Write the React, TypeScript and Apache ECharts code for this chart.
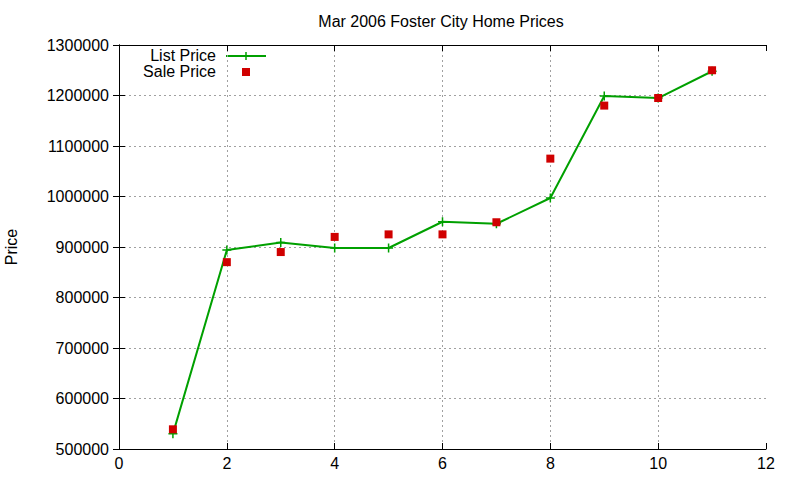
import { useEffect, useRef } from 'react';
import * as echarts from 'echarts';

const houses = [1, 2, 3, 4, 5, 6, 7, 8, 9, 10, 11];
const listPrice = [530000, 894000, 909000, 898000, 898000, 950000, 946000, 997000, 1199000, 1195000, 1248000];
const salePrice = [539000, 870000, 890000, 920000, 925000, 925000, 949000, 1075000, 1180000, 1195000, 1250000];
const xTicks = [0, 2, 4, 6, 8, 10, 12];
const yTicks = [500000, 600000, 700000, 800000, 900000, 1000000, 1100000, 1200000, 1300000];

const GREEN = '#00a000';
const RED = '#d00000';
const FONT = '"Liberation Sans", Arial, sans-serif';
const FS = 16;
const PLUS = 'path://M0,5L10,5M5,0L5,10';

export default function App() {
  const divRef = useRef<HTMLDivElement>(null);

  useEffect(() => {
    if (!divRef.current) return;
    const chart = echarts.init(divRef.current, undefined, { renderer: 'svg' });

    const gridDash = { color: '#a0a0a0', type: [2, 3] as number[], width: 1 };
    const tick = { show: true, inside: true, length: 6, lineStyle: { color: '#000' } };
    const lbl = { fontFamily: FONT, fontSize: FS, color: '#000' };

    chart.setOption({
      animation: false,
      backgroundColor: '#fff',
      graphic: [
        {
          type: 'text',
          x: 441,
          y: 21,
          style: {
            text: 'Mar 2006 Foster City Home Prices',
            font: `${FS}px ${FONT}`,
            fill: '#000',
            align: 'center',
            verticalAlign: 'middle',
          },
        },
        {
          type: 'text',
          x: 216,
          y: 55,
          style: { text: 'List Price', font: `${FS}px ${FONT}`, fill: '#000', align: 'right', verticalAlign: 'middle' },
        },
        {
          type: 'text',
          x: 216,
          y: 71,
          style: { text: 'Sale Price', font: `${FS}px ${FONT}`, fill: '#000', align: 'right', verticalAlign: 'middle' },
        },
        {
          type: 'line',
          shape: { x1: 226, y1: 56, x2: 266, y2: 56 },
          style: { stroke: GREEN, lineWidth: 2 },
        },
        {
          type: 'line',
          shape: { x1: 246, y1: 52, x2: 246, y2: 60 },
          style: { stroke: GREEN, lineWidth: 1.5 },
        },
        {
          type: 'rect',
          shape: { x: 242, y: 68, width: 8, height: 8 },
          style: { fill: RED },
        },
      ],
      grid: { left: 119, right: 34, top: 45, bottom: 31, containLabel: false, outerBoundsMode: 'none' },
      xAxis: [
        {
          type: 'value',
          min: xTicks[0],
          max: xTicks[xTicks.length - 1],
          interval: 2,
          axisLine: { show: true, lineStyle: { color: '#000', width: 1 } },
          axisTick: tick,
          axisLabel: { ...lbl, margin: 6 },
          splitLine: { show: true, showMinLine: false, showMaxLine: false, lineStyle: gridDash },
        },
        {
          type: 'value',
          position: 'top',
          min: xTicks[0],
          max: xTicks[xTicks.length - 1],
          interval: 2,
          axisLine: { show: true, lineStyle: { color: '#000', width: 1 } },
          axisTick: tick,
          axisLabel: { show: false },
          splitLine: { show: false },
        },
      ],
      yAxis: [
        {
          type: 'value',
          min: yTicks[0],
          max: yTicks[yTicks.length - 1],
          interval: 100000,
          name: 'Price',
          nameLocation: 'middle',
          nameGap: 100,
          nameRotate: 90,
          nameTextStyle: lbl,
          axisLine: { show: true, lineStyle: { color: '#000', width: 1 } },
          axisTick: tick,
          axisLabel: { ...lbl, margin: 10, formatter: (v: number) => String(v) },
          splitLine: { show: true, showMinLine: false, showMaxLine: false, lineStyle: gridDash },
        },
        {
          type: 'value',
          position: 'right',
          min: yTicks[0],
          max: yTicks[yTicks.length - 1],
          interval: 100000,
          axisLine: { show: true, lineStyle: { color: '#000', width: 1 } },
          axisTick: tick,
          axisLabel: { show: false },
          splitLine: { show: false },
        },
      ],
      series: [
        {
          name: 'List Price',
          type: 'line',
          data: houses.map((h, i) => [h, listPrice[i]]),
          symbol: PLUS,
          symbolSize: 9,
          lineStyle: { color: GREEN, width: 2 },
          itemStyle: { color: GREEN, borderColor: GREEN, borderWidth: 1.5 },
          z: 3,
        },
        {
          name: 'Sale Price',
          type: 'scatter',
          data: houses.map((h, i) => [h, salePrice[i]]),
          symbol: 'rect',
          symbolSize: 8,
          itemStyle: { color: RED, opacity: 1 },
          z: 4,
        },
      ],
    });

    return () => chart.dispose();
  }, []);

  return (
    <div style={{ position: 'fixed', left: 0, top: 0, width: 800, height: 480 }}>
      <div ref={divRef} style={{ width: 800, height: 480 }} />
    </div>
  );
}
